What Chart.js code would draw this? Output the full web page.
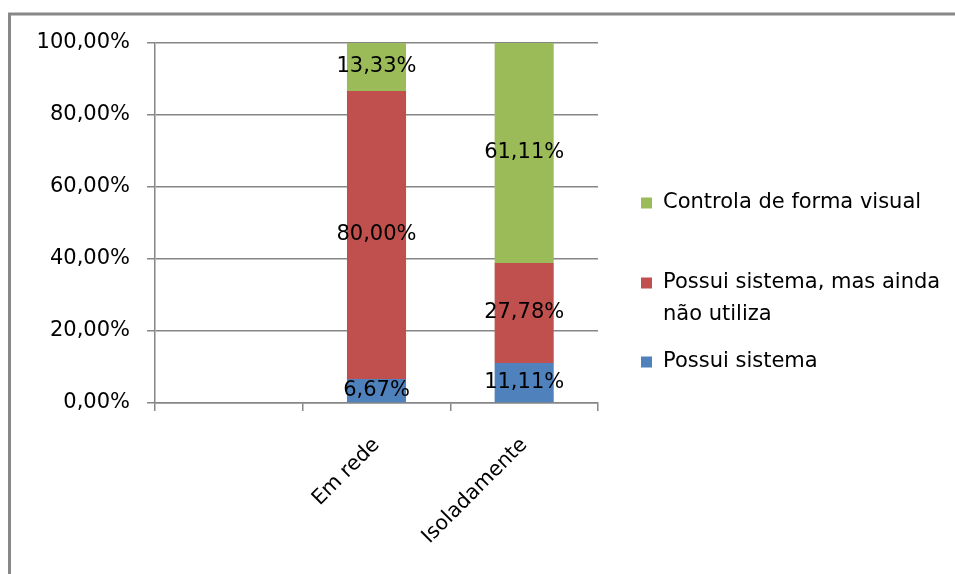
<!DOCTYPE html>
<html>
<head>
<meta charset="utf-8">
<script src="https://cdn.jsdelivr.net/npm/chart.js@4"></script>
<style>
  html, body { margin: 0; padding: 0; background: #fff; }
  #wrap { width: 955px; height: 574px; }
</style>
</head>
<body>
<div id="wrap"><canvas id="c" width="955" height="574"></canvas></div>
<script>
// Categories along the x axis (the first slot is left empty)
const categories = ["", "Em rede", "Isoladamente"];

// Percentages for each series, bottom to top of each stack
const possuiSistema = [null, 6.67, 11.11];
const possuiNaoUtiliza = [null, 80.00, 27.78];
const controlaVisual = [null, 13.33, 61.11];

const seriesNames = [
  "Possui sistema",
  ["Possui sistema, mas ainda", "não utiliza"],
  "Controla de forma visual"
];
const seriesColors = ["#4F81BD", "#C0504D", "#9BBB59"];

// Y axis tick values
const yTicks = [0, 20, 40, 60, 80, 100];

const FONT = "'DejaVu Sans', sans-serif";
const GRID = "#868686";

function pct(v) {
  return v.toFixed(2).replace(".", ",") + "%";
}

// Outer frame of the chart area
const framePlugin = {
  id: "frame",
  beforeDraw(chart) {
    const ctx = chart.ctx;
    ctx.save();
    ctx.fillStyle = "#fff";
    ctx.fillRect(0, 0, chart.width, chart.height);
    ctx.strokeStyle = "#888";
    ctx.lineWidth = 3;
    ctx.beginPath();
    ctx.moveTo(chart.width + 2, 14);
    ctx.lineTo(9.5, 14);
    ctx.lineTo(9.5, chart.height + 2);
    ctx.stroke();
    ctx.restore();
  }
};

// Value labels centred on each bar segment
const valueLabels = {
  id: "valueLabels",
  afterDatasetsDraw(chart) {
    const ctx = chart.ctx;
    ctx.save();
    ctx.font = "21px " + FONT;
    ctx.fillStyle = "#000";
    ctx.textAlign = "center";
    ctx.textBaseline = "middle";
    chart.data.datasets.forEach((ds, di) => {
      const meta = chart.getDatasetMeta(di);
      meta.data.forEach((bar, i) => {
        const v = ds.data[i];
        if (v === null || v === undefined) return;
        const { x, y, base } = bar.getProps(["x", "y", "base"], true);
        ctx.fillText(pct(v), x, (y + base) / 2);
      });
    });
    ctx.restore();
  }
};

// Legend on the right, listed top series first
const sideLegend = {
  id: "sideLegend",
  afterDraw(chart) {
    const ctx = chart.ctx;
    const area = chart.chartArea;
    const boxX = area.right + 43;
    const textX = boxX + 22;
    const rows = [203, 283, 362];
    const lineH = 32;
    ctx.save();
    ctx.font = "21px " + FONT;
    ctx.fillStyle = "#000";
    ctx.textBaseline = "middle";
    ctx.textAlign = "left";
    const n = chart.data.datasets.length;
    for (let k = 0; k < n; k++) {
      const ds = chart.data.datasets[n - 1 - k];
      const cy = rows[k];
      ctx.fillStyle = ds.backgroundColor;
      ctx.fillRect(boxX, cy - 5.5, 11, 11);
      ctx.fillStyle = "#000";
      const lines = Array.isArray(ds.label) ? ds.label : [ds.label];
      lines.forEach((t, j) => ctx.fillText(t, textX, cy + j * lineH));
    }
    ctx.restore();
  }
};

const seriesData = [possuiSistema, possuiNaoUtiliza, controlaVisual];

new Chart(document.getElementById("c"), {
  type: "bar",
  data: {
    labels: categories,
    datasets: seriesData.map((d, i) => ({
      label: seriesNames[i],
      data: d,
      backgroundColor: seriesColors[i],
      borderWidth: 0,
      barPercentage: 0.4,
      categoryPercentage: 1.0
    }))
  },
  options: {
    responsive: false,
    animation: false,
    devicePixelRatio: 1,
    layout: { padding: { top: 43, right: 357, left: 0, bottom: 0 } },
    plugins: {
      legend: { display: false },
      title: { display: false },
      tooltip: { enabled: false }
    },
    scales: {
      x: {
        stacked: true,
        grid: {
          display: true,
          offset: true,
          drawOnChartArea: false,
          color: GRID,
          tickLength: 8,
          lineWidth: 1.5
        },
        border: { display: true, color: GRID, width: 1.5 },
        ticks: {
          color: "#000",
          font: { family: FONT, size: 20.5 },
          maxRotation: 45,
          minRotation: 45,
          autoSkip: false,
          padding: 22
        },
        afterFit(scale) { scale.height = 171; }
      },
      y: {
        stacked: true,
        min: 0,
        max: 100,
        afterBuildTicks(scale) {
          scale.ticks = yTicks.map(v => ({ value: v }));
        },
        grid: {
          color: GRID,
          tickLength: 8,
          lineWidth: 1.5
        },
        border: { display: true, color: GRID, width: 1.5 },
        ticks: {
          color: "#000",
          font: { family: FONT, size: 21 },
          padding: 17,
          callback: v => pct(v)
        },
        afterFit(scale) { scale.width = 155; }
      }
    }
  },
  plugins: [framePlugin, valueLabels, sideLegend]
});
</script>
</body>
</html>
